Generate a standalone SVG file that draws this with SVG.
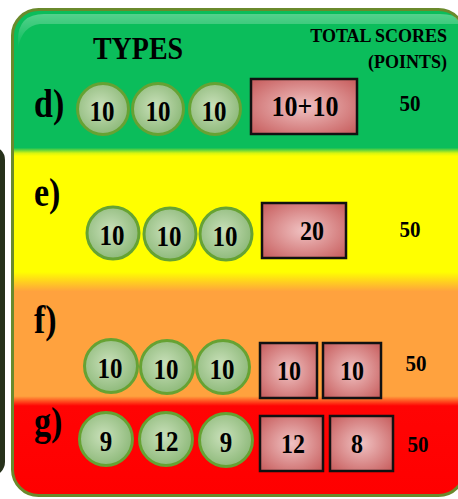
<svg xmlns="http://www.w3.org/2000/svg" width="458" height="499" viewBox="0 0 458 499">
<defs>
  <linearGradient id="bands" gradientUnits="userSpaceOnUse" x1="0" y1="9" x2="0" y2="496">
    <stop offset="0" stop-color="#0bbd5b"/>
    <stop offset="0.285" stop-color="#0bbd5b"/>
    <stop offset="0.296" stop-color="#d8f510"/>
    <stop offset="0.302" stop-color="#ffff00"/>
    <stop offset="0.54" stop-color="#ffff00"/>
    <stop offset="0.58" stop-color="#ffa23e"/>
    <stop offset="0.795" stop-color="#ffa23e"/>
    <stop offset="0.815" stop-color="#ff0404"/>
    <stop offset="1" stop-color="#ff0000"/>
  </linearGradient>
  <linearGradient id="gloss" x1="0" y1="0" x2="0" y2="1">
    <stop offset="0" stop-color="#ffffff" stop-opacity="0.3"/>
    <stop offset="1" stop-color="#ffffff" stop-opacity="0"/>
  </linearGradient>
  <radialGradient id="coin" cx="0.45" cy="0.45" r="0.6">
    <stop offset="0" stop-color="#c9e0ba"/>
    <stop offset="1" stop-color="#8ab776"/>
  </radialGradient>
  <radialGradient id="box" cx="0.5" cy="0.5" r="0.65">
    <stop offset="0" stop-color="#f0c2c2"/>
    <stop offset="1" stop-color="#c96262"/>
  </radialGradient>
</defs>
<style>
  .t { font-family: "Liberation Serif", "Times New Roman", serif; font-weight: bold; fill: #000; }
  .c { fill: url(#coin); stroke: #66a233; stroke-width: 3; }
  .b { fill: url(#box); stroke: #111; stroke-width: 2.5; }
</style>

<!-- partial panel at left edge -->
<rect x="-40" y="146" width="45" height="330" rx="14" fill="#26311a"/>

<!-- main panel -->
<g id="panel">
  <rect x="12.5" y="9.5" width="452" height="486" rx="26" fill="url(#bands)" stroke="#6a8a2c" stroke-width="3"/>
  <path d="M18,40 Q18,14 44,14 L440,14 Q455,14 458,20 L458,24 L40,24 Q22,26 18,48 Z" fill="url(#gloss)"/>
</g>

<!-- headings -->
<g id="headings">
  <text class="t" text-anchor="middle" font-size="28" transform="translate(138 59) scale(1 1.12)">TYPES</text>
  <text class="t" text-anchor="end" font-size="18" transform="translate(447 42) scale(1 1.08)">TOTAL SCORES</text>
  <text class="t" text-anchor="end" font-size="18" transform="translate(447 68) scale(1 1.08)">(POINTS)</text>
</g>

<!-- row d -->
<g id="row-d">
  <text class="t" font-size="34" transform="translate(34 117) scale(1 1.15)">d)</text>
  <circle class="c" cx="103" cy="109" r="25.5"/>
  <circle class="c" cx="158" cy="109" r="25.5"/>
  <circle class="c" cx="215" cy="109" r="25.5"/>
  <text class="t" text-anchor="middle" font-size="25" transform="translate(102 121) scale(1 1.22)">10</text>
  <text class="t" text-anchor="middle" font-size="25" transform="translate(158 121) scale(1 1.22)">10</text>
  <text class="t" text-anchor="middle" font-size="25" transform="translate(214 121) scale(1 1.22)">10</text>
  <rect class="b" x="251" y="79" width="106" height="55"/>
  <text class="t" text-anchor="middle" font-size="26" transform="translate(305 116) scale(1 1.1)">10+10</text>
  <text class="t" text-anchor="middle" font-size="21" transform="translate(410 111) scale(1 1.05)">50</text>
</g>

<!-- row e -->
<g id="row-e">
  <text class="t" font-size="34" transform="translate(34 206) scale(1 1.15)">e)</text>
  <circle class="c" cx="113" cy="233" r="26"/>
  <circle class="c" cx="170" cy="234" r="26"/>
  <circle class="c" cx="226" cy="234" r="26"/>
  <text class="t" text-anchor="middle" font-size="25" transform="translate(112 245) scale(1 1.22)">10</text>
  <text class="t" text-anchor="middle" font-size="25" transform="translate(169 246) scale(1 1.22)">10</text>
  <text class="t" text-anchor="middle" font-size="25" transform="translate(225 246) scale(1 1.22)">10</text>
  <rect class="b" x="262" y="203" width="84" height="55"/>
  <text class="t" text-anchor="middle" font-size="24" transform="translate(312 240) scale(1 1.1)">20</text>
  <text class="t" text-anchor="middle" font-size="21" transform="translate(410 237) scale(1 1.05)">50</text>
</g>

<!-- row f -->
<g id="row-f">
  <text class="t" font-size="34" transform="translate(34 333) scale(1 1.15)">f)</text>
  <circle class="c" cx="111" cy="366" r="26.5"/>
  <circle class="c" cx="167" cy="367" r="26.5"/>
  <circle class="c" cx="223" cy="367" r="26.5"/>
  <text class="t" text-anchor="middle" font-size="25" transform="translate(110 378) scale(1 1.22)">10</text>
  <text class="t" text-anchor="middle" font-size="25" transform="translate(166 379) scale(1 1.22)">10</text>
  <text class="t" text-anchor="middle" font-size="25" transform="translate(222 379) scale(1 1.22)">10</text>
  <rect class="b" x="260" y="343" width="57" height="55"/>
  <rect class="b" x="323" y="343" width="58" height="55"/>
  <text class="t" text-anchor="middle" font-size="24" transform="translate(289 380) scale(1 1.1)">10</text>
  <text class="t" text-anchor="middle" font-size="24" transform="translate(352 380) scale(1 1.1)">10</text>
  <text class="t" text-anchor="middle" font-size="21" transform="translate(416 371) scale(1 1.05)">50</text>
</g>

<!-- row g -->
<g id="row-g">
  <text class="t" font-size="34" transform="translate(34 435) scale(1 1.15)">g)</text>
  <circle class="c" cx="106" cy="439" r="26.5"/>
  <circle class="c" cx="166" cy="439" r="26.5"/>
  <circle class="c" cx="226" cy="440" r="26.5"/>
  <text class="t" text-anchor="middle" font-size="25" transform="translate(106 451) scale(1 1.22)">9</text>
  <text class="t" text-anchor="middle" font-size="25" transform="translate(166 451) scale(1 1.22)">12</text>
  <text class="t" text-anchor="middle" font-size="25" transform="translate(226 452) scale(1 1.22)">9</text>
  <rect class="b" x="260" y="416" width="63" height="55"/>
  <rect class="b" x="330" y="416" width="63" height="55"/>
  <text class="t" text-anchor="middle" font-size="24" transform="translate(293 453) scale(1 1.1)">12</text>
  <text class="t" text-anchor="middle" font-size="24" transform="translate(357 453) scale(1 1.1)">8</text>
  <text class="t" text-anchor="middle" font-size="21" transform="translate(418 452) scale(1 1.05)">50</text>
</g>
</svg>
